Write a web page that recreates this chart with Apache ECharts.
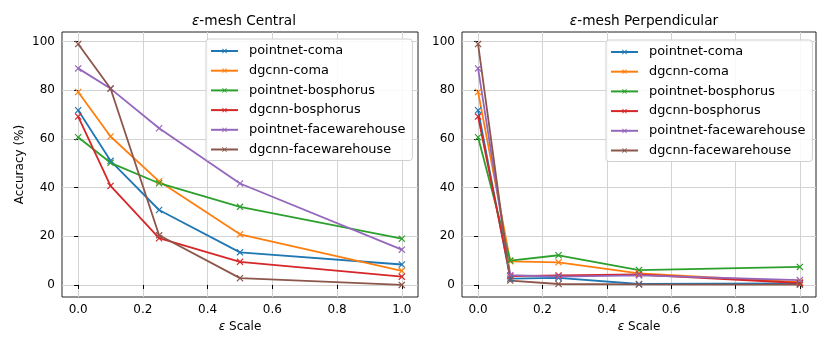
<!DOCTYPE html>
<html>
<head>
<meta charset="utf-8">
<script src="https://cdn.jsdelivr.net/npm/echarts@6/dist/echarts.min.js"></script>
<style>
    html, body { margin: 0; padding: 0; background: #fff; }
    #chart { width: 830px; height: 346px; }
</style>
</head>
<body>
<div id="chart"></div>
<script>
// epsilon scale values (x)
const epsScale = [0, 0.1, 0.25, 0.5, 1.0]
const seriesNames = ['pointnet-coma', 'dgcnn-coma', 'pointnet-bosphorus', 'dgcnn-bosphorus', 'pointnet-facewarehouse', 'dgcnn-facewarehouse']

// eps-mesh Central
const pointnetComaC = [71.8, 51.0, 30.8, 13.4, 8.4]
const dgcnnComaC = [79.3, 61.0, 42.6, 20.8, 5.8]
const pointnetBosC = [60.7, 50.2, 41.8, 32.1, 19.0]
const dgcnnBosC = [69.2, 40.7, 19.2, 9.5, 3.4]
const pointnetFwC = [89.0, 80.7, 64.4, 41.7, 14.5]
const dgcnnFwC = [99.0, 80.7, 20.4, 2.8, 0.0]

// eps-mesh Perpendicular
const pointnetComaP = [71.8, 2.6, 2.9, 0.4, 0.6]
const dgcnnComaP = [79.3, 9.7, 9.3, 4.8, 1.2]
const pointnetBosP = [60.7, 10.0, 12.2, 6.1, 7.4]
const dgcnnBosP = [69.2, 3.6, 3.9, 4.3, 0.8]
const pointnetFwP = [89.0, 4.0, 3.4, 3.9, 2.0]
const dgcnnFwP = [99.0, 1.8, 0.4, 0.2, 0.1]

const xTicks = [0, 0.2, 0.4, 0.6, 0.8, 1.0]
const yTicks = [0, 20, 40, 60, 80, 100]

const colors = ['#1f77b4', '#ff7f0e', '#2ca02c', '#d62728', '#9467bd', '#8c564b']
const FONT = 'DejaVu Sans'
const crossPath = 'path://M0,1.2L1.2,0L5,3.8L8.8,0L10,1.2L6.2,5L10,8.8L8.8,10L5,6.2L1.2,10L0,8.8L3.8,5Z'

const central = [pointnetComaC, dgcnnComaC, pointnetBosC, dgcnnBosC, pointnetFwC, dgcnnFwC]
const perp = [pointnetComaP, dgcnnComaP, pointnetBosP, dgcnnBosP, pointnetFwP, dgcnnFwP]

function makeSeries(list, idx) {
    return list.map((vals, i) => ({
        name: seriesNames[i],
        type: 'line',
        xAxisIndex: idx,
        yAxisIndex: idx,
        data: vals.map((v, j) => [epsScale[j], v]),
        symbol: crossPath,
        symbolSize: 7,
        showSymbol: true,
        lineStyle: { width: 1.8, color: colors[i] },
        itemStyle: { color: colors[i] },
        emphasis: { disabled: true },
        animation: false
    }))
}

function xAxis(idx) {
    return {
        type: 'value', gridIndex: idx,
        min: -0.05, max: 1.05,
        name: '{e|ε} Scale', nameLocation: 'middle', nameGap: 20,
        nameTextStyle: { color: '#000', fontFamily: FONT, fontSize: 12,
            rich: { e: { fontStyle: 'italic', fontFamily: FONT, fontSize: 12, color: '#000' } } },
        axisLine: { show: false },
        axisTick: { show: true, length: 4, lineStyle: { color: '#000' }, customValues: xTicks },
        axisLabel: { color: '#000', fontFamily: FONT, fontSize: 12, margin: 7, customValues: xTicks,
            formatter: v => v.toFixed(1) },
        splitLine: { show: true, lineStyle: { color: '#d3d3d3', width: 1 } }
    }
}

function yAxis(idx, withName) {
    return {
        type: 'value', gridIndex: idx,
        min: -4.95, max: 103.95,
        name: withName ? 'Accuracy (%)' : '', nameLocation: 'middle', nameGap: 36,
        nameTextStyle: { color: '#000', fontFamily: FONT, fontSize: 12 },
        axisLine: { show: false },
        axisTick: { show: true, length: 4, lineStyle: { color: '#000' }, customValues: yTicks },
        axisLabel: { color: '#000', fontFamily: FONT, fontSize: 12, margin: 7, customValues: yTicks },
        splitLine: { show: true, lineStyle: { color: '#d3d3d3', width: 1 } }
    }
}

function legend(idx, left, top) {
    return {
        show: true,
        orient: 'vertical',
        left: left, top: top,
        itemWidth: 27, itemHeight: 6, itemGap: 5.7,
        padding: [5, 7, 4, 4],
        backgroundColor: 'rgba(255,255,255,0.85)',
        borderColor: '#d0d0d0', borderWidth: 1, borderRadius: 3,
        textStyle: { color: '#000', fontFamily: FONT, fontSize: 12.9, lineHeight: 14, padding: [0, 0, 0, 6] },
        data: seriesNames,
        selectedMode: false,
        z: 10
    }
}

const chart = echarts.init(document.getElementById('chart'), null, { renderer: 'canvas' })
chart.setOption({
    backgroundColor: '#fff',
    animation: false,
    color: colors,
    title: [{
        text: '{e|ε}-mesh Central', left: 239, top: 9, textAlign: 'center',
        textStyle: { color: '#000', fontFamily: FONT, fontSize: 13.7, fontWeight: 'normal',
            rich: { e: { fontStyle: 'italic', fontFamily: FONT, fontSize: 13.7, color: '#000' } } }
    }, {
        text: '{e|ε}-mesh Perpendicular', left: 639, top: 9, textAlign: 'center',
        textStyle: { color: '#000', fontFamily: FONT, fontSize: 13.7, fontWeight: 'normal',
            rich: { e: { fontStyle: 'italic', fontFamily: FONT, fontSize: 13.7, color: '#000' } } }
    }],
    legend: [legend(0, 206, 39), legend(1, 606, 40)],
    grid: [
        { left: 62, top: 32, width: 356, height: 265, show: true, borderColor: '#222', borderWidth: 1, backgroundColor: 'transparent' },
        { left: 462, top: 32, width: 354, height: 265, show: true, borderColor: '#222', borderWidth: 1, backgroundColor: 'transparent' }
    ],
    xAxis: [xAxis(0), xAxis(1)],
    yAxis: [yAxis(0, true), yAxis(1, false)],
    series: [...makeSeries(central, 0), ...makeSeries(perp, 1)]
})
</script>
</body>
</html>
